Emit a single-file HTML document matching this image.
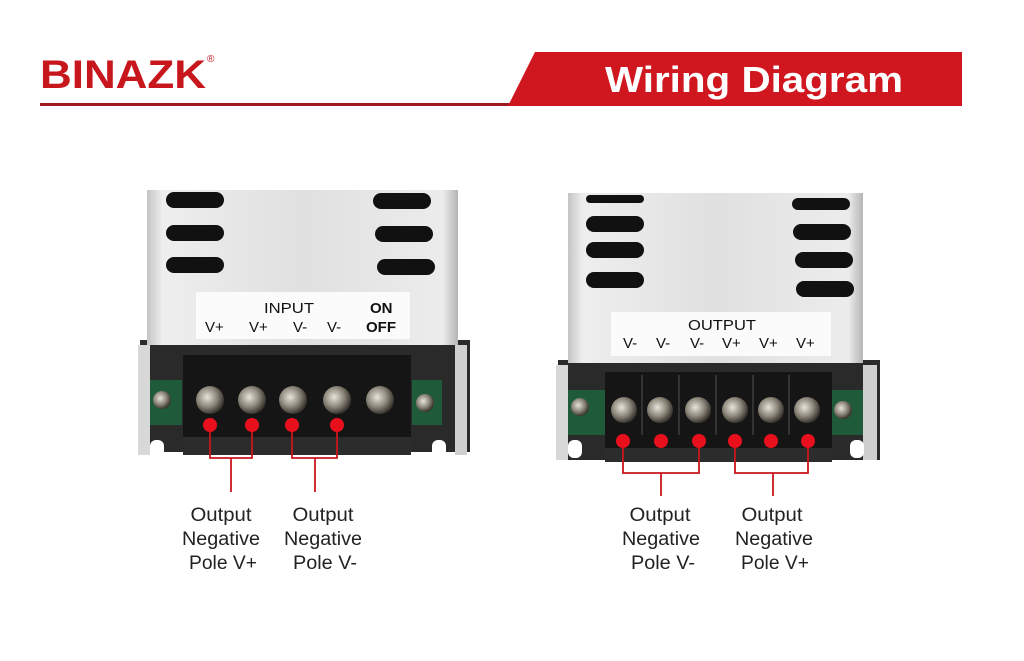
<!DOCTYPE html>
<html><head><meta charset="utf-8"><style>
html,body{margin:0;padding:0;background:#fff;}
svg{display:block;}
text{font-family:"Liberation Sans",sans-serif;}
</style></head><body>
<svg width="1024" height="661" viewBox="0 0 1024 661" xmlns="http://www.w3.org/2000/svg">
<defs>
<linearGradient id="met" x1="0" y1="0" x2="1" y2="0">
<stop offset="0" stop-color="#c4c4c4"/><stop offset="0.05" stop-color="#eeeeee"/><stop offset="0.5" stop-color="#e0e0e0"/><stop offset="0.95" stop-color="#ececec"/><stop offset="1" stop-color="#b5b5b5"/>
</linearGradient>
<radialGradient id="scr" cx="0.4" cy="0.4" r="0.6">
<stop offset="0" stop-color="#e8e4dc"/><stop offset="0.6" stop-color="#8a8478"/><stop offset="1" stop-color="#3a3630"/>
</radialGradient>
</defs>
<rect x="40" y="103" width="472" height="3" fill="#9e1b20"/>
<polygon points="508,106 535,52 962,52 962,106" fill="#d0161f"/>
<text x="40" y="88" font-size="40" font-weight="bold" fill="#c8161d" textLength="166" lengthAdjust="spacingAndGlyphs">BINAZK</text>
<text x="207" y="62" font-size="10" fill="#c8161d">®</text>
<text x="605" y="92" font-size="36" font-weight="bold" fill="#fff" textLength="298" lengthAdjust="spacingAndGlyphs">Wiring Diagram</text>

<rect x="140" y="340" width="330" height="112" fill="#2a2a2a"/>
<rect x="140" y="380" width="42" height="45" fill="#1f5a3a"/>
<rect x="412" y="380" width="30" height="45" fill="#1f5a3a"/>
<rect x="147" y="190" width="311" height="155" fill="url(#met)"/>
<rect x="138" y="345" width="12" height="110" fill="#d8d8d8"/>
<rect x="455" y="345" width="12" height="110" fill="#cfcfcf"/>
<g fill="#111">
<rect x="166" y="192" width="58" height="16" rx="8"/>
<rect x="166" y="225" width="58" height="16" rx="8"/>
<rect x="166" y="257" width="58" height="16" rx="8"/>
<rect x="373" y="193" width="58" height="16" rx="8"/>
<rect x="375" y="226" width="58" height="16" rx="8"/>
<rect x="377" y="259" width="58" height="16" rx="8"/>
</g>
<rect x="196" y="292" width="214" height="47" fill="#fbfbfb"/>
<text x="264" y="313" font-size="15" fill="#111" textLength="50" lengthAdjust="spacingAndGlyphs">INPUT</text>
<text x="370" y="313" font-size="15" font-weight="bold" fill="#111">ON</text>
<g font-size="15" fill="#111"><text x="205" y="332">V+</text><text x="249" y="332">V+</text><text x="293" y="332">V-</text><text x="327" y="332">V-</text></g>
<text x="366" y="332" font-size="15" font-weight="bold" fill="#111">OFF</text>
<rect x="183" y="355" width="228" height="100" fill="#151515"/>
<rect x="183" y="437" width="228" height="18" fill="#2c2c2c"/>
<g fill="url(#scr)">
<circle cx="210" cy="400" r="14"/><circle cx="252" cy="400" r="14"/><circle cx="293" cy="400" r="14"/><circle cx="337" cy="400" r="14"/><circle cx="380" cy="400" r="14"/>
<circle cx="162" cy="400" r="9"/><circle cx="425" cy="403" r="9"/>
</g>
<g fill="#fff"><rect x="150" y="440" width="14" height="18" rx="6"/><rect x="432" y="440" width="14" height="18" rx="6"/></g>
<g stroke="#c8161d" stroke-width="1.8" fill="none">
<polyline points="210,426 210,458 252,458 252,426"/>
<polyline points="292,426 292,458 337,458 337,426"/>
<line x1="231" y1="458" x2="231" y2="492"/>
<line x1="315" y1="458" x2="315" y2="492"/>
</g>
<g fill="#e8101c"><circle cx="210" cy="425" r="7"/><circle cx="252" cy="425" r="7"/><circle cx="292" cy="425" r="7"/><circle cx="337" cy="425" r="7"/></g>

<rect x="558" y="360" width="322" height="100" fill="#2a2a2a"/>
<rect x="560" y="390" width="45" height="45" fill="#1f5a3a"/>
<rect x="832" y="390" width="40" height="45" fill="#1f5a3a"/>
<rect x="568" y="193" width="295" height="170" fill="url(#met)"/>
<rect x="556" y="365" width="12" height="95" fill="#d8d8d8"/>
<rect x="863" y="365" width="14" height="95" fill="#cfcfcf"/>
<g fill="#111">
<rect x="586" y="195" width="58" height="8" rx="4"/>
<rect x="586" y="216" width="58" height="16" rx="8"/>
<rect x="586" y="242" width="58" height="16" rx="8"/>
<rect x="586" y="272" width="58" height="16" rx="8"/>
<rect x="792" y="198" width="58" height="12" rx="6"/>
<rect x="793" y="224" width="58" height="16" rx="8"/>
<rect x="795" y="252" width="58" height="16" rx="8"/>
<rect x="796" y="281" width="58" height="16" rx="8"/>
</g>
<rect x="611" y="312" width="220" height="44" fill="#fbfbfb"/>
<text x="688" y="330" font-size="15" fill="#111" textLength="68" lengthAdjust="spacingAndGlyphs">OUTPUT</text>
<g font-size="15" fill="#111"><text x="623" y="348">V-</text><text x="656" y="348">V-</text><text x="690" y="348">V-</text><text x="722" y="348">V+</text><text x="759" y="348">V+</text><text x="796" y="348">V+</text></g>
<rect x="605" y="372" width="227" height="88" fill="#151515"/>
<rect x="605" y="448" width="227" height="14" fill="#2c2c2c"/>
<g stroke="#333" stroke-width="2"><line x1="642" y1="375" x2="642" y2="435"/><line x1="679" y1="375" x2="679" y2="435"/><line x1="716" y1="375" x2="716" y2="435"/><line x1="753" y1="375" x2="753" y2="435"/><line x1="789" y1="375" x2="789" y2="435"/></g>
<g fill="url(#scr)">
<circle cx="624" cy="410" r="13"/><circle cx="660" cy="410" r="13"/><circle cx="698" cy="410" r="13"/><circle cx="735" cy="410" r="13"/><circle cx="771" cy="410" r="13"/><circle cx="807" cy="410" r="13"/>
<circle cx="580" cy="407" r="9"/><circle cx="843" cy="410" r="9"/>
</g>
<g fill="#fff"><rect x="568" y="440" width="14" height="18" rx="6"/><rect x="850" y="440" width="14" height="18" rx="6"/></g>
<g stroke="#c8161d" stroke-width="1.8" fill="none">
<polyline points="623,442 623,473 699,473 699,442"/>
<polyline points="735,442 735,473 808,473 808,442"/>
<line x1="661" y1="473" x2="661" y2="496"/>
<line x1="773" y1="473" x2="773" y2="496"/>
</g>
<g fill="#e8101c"><circle cx="623" cy="441" r="7"/><circle cx="661" cy="441" r="7"/><circle cx="699" cy="441" r="7"/><circle cx="735" cy="441" r="7"/><circle cx="771" cy="441" r="7"/><circle cx="808" cy="441" r="7"/></g>

<g font-size="19" fill="#222" text-anchor="middle">
<text x="221" y="521" textLength="61" lengthAdjust="spacingAndGlyphs">Output</text><text x="221" y="545" textLength="78" lengthAdjust="spacingAndGlyphs">Negative</text><text x="223" y="569" textLength="68" lengthAdjust="spacingAndGlyphs">Pole V+</text>
<text x="323" y="521" textLength="61" lengthAdjust="spacingAndGlyphs">Output</text><text x="323" y="545" textLength="78" lengthAdjust="spacingAndGlyphs">Negative</text><text x="325" y="569" textLength="64" lengthAdjust="spacingAndGlyphs">Pole V-</text>
<text x="660" y="521" textLength="61" lengthAdjust="spacingAndGlyphs">Output</text><text x="661" y="545" textLength="78" lengthAdjust="spacingAndGlyphs">Negative</text><text x="663" y="569" textLength="64" lengthAdjust="spacingAndGlyphs">Pole V-</text>
<text x="772" y="521" textLength="61" lengthAdjust="spacingAndGlyphs">Output</text><text x="774" y="545" textLength="78" lengthAdjust="spacingAndGlyphs">Negative</text><text x="775" y="569" textLength="68" lengthAdjust="spacingAndGlyphs">Pole V+</text>
</g>
</svg>
</body></html>
